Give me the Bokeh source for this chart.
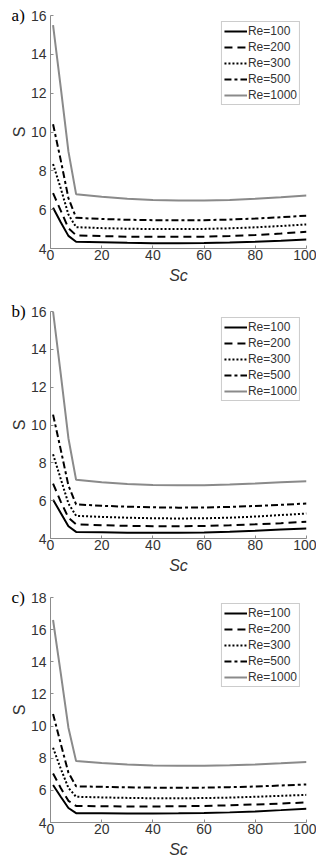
from bokeh.plotting import figure
from bokeh.models import Range1d, FixedTicker, Legend, LegendItem
from bokeh.core.properties import value
from bokeh.layouts import column
from bokeh.embed import file_html
from bokeh.resources import INLINE

# ---- data ----
sc = [1, 4, 7, 10, 20, 30, 40, 50, 60, 70, 80, 90, 100]
re_labels = ["Re=100", "Re=200", "Re=300", "Re=500", "Re=1000"]

a_re100 = [6.10, 5.35, 4.65, 4.35, 4.32, 4.29, 4.27, 4.27, 4.28, 4.31, 4.35, 4.40, 4.46]
a_re200 = [6.85, 5.95, 5.05, 4.68, 4.64, 4.61, 4.60, 4.60, 4.61, 4.64, 4.69, 4.77, 4.86]
a_re300 = [8.35, 7.10, 5.75, 5.10, 5.05, 5.02, 5.00, 5.00, 5.01, 5.04, 5.09, 5.16, 5.24]
a_re500 = [10.40, 8.55, 6.60, 5.58, 5.52, 5.48, 5.46, 5.45, 5.46, 5.49, 5.54, 5.61, 5.69]
a_re1000 = [15.50, 12.30, 9.00, 6.80, 6.66, 6.56, 6.50, 6.47, 6.47, 6.50, 6.56, 6.64, 6.73]

b_re100 = [6.05, 5.35, 4.65, 4.35, 4.33, 4.31, 4.30, 4.30, 4.32, 4.36, 4.41, 4.47, 4.53]
b_re200 = [6.90, 5.95, 5.10, 4.75, 4.70, 4.67, 4.65, 4.65, 4.66, 4.70, 4.75, 4.81, 4.88]
b_re300 = [8.45, 7.15, 5.85, 5.20, 5.14, 5.10, 5.07, 5.06, 5.07, 5.10, 5.16, 5.24, 5.32]
b_re500 = [10.55, 8.70, 6.80, 5.80, 5.73, 5.68, 5.65, 5.63, 5.64, 5.67, 5.72, 5.78, 5.85]
b_re1000 = [16.00, 12.70, 9.30, 7.10, 6.97, 6.88, 6.83, 6.81, 6.82, 6.86, 6.91, 6.97, 7.03]

c_re100 = [6.33, 5.60, 4.90, 4.58, 4.57, 4.56, 4.56, 4.57, 4.59, 4.63, 4.69, 4.77, 4.86]
c_re200 = [7.05, 6.15, 5.35, 5.03, 5.01, 5.00, 5.00, 5.01, 5.03, 5.07, 5.12, 5.18, 5.25]
c_re300 = [8.65, 7.35, 6.15, 5.60, 5.56, 5.53, 5.51, 5.51, 5.52, 5.55, 5.60, 5.66, 5.72]
c_re500 = [10.75, 8.90, 7.10, 6.25, 6.22, 6.19, 6.17, 6.16, 6.17, 6.20, 6.24, 6.30, 6.37]
c_re1000 = [16.60, 13.30, 9.90, 7.82, 7.70, 7.61, 7.55, 7.53, 7.53, 7.56, 7.61, 7.68, 7.76]

x_ticks = [0, 20, 40, 60, 80, 100]
y_ticks_ab = [4, 6, 8, 10, 12, 14, 16]
y_ticks_c = [4, 6, 8, 10, 12, 14, 16, 18]

styles = [
    dict(line_color="black", line_width=2, line_dash="solid"),
    dict(line_color="black", line_width=2, line_dash="8 5"),
    dict(line_color="black", line_width=2, line_dash="2 2"),
    dict(line_color="black", line_width=2, line_dash="7 3 3 3"),
    dict(line_color="#8a8a8a", line_width=2, line_dash="solid"),
]

AX = "#8c8c8c"
TXT = "#333333"


def make_panel(series, ymax, yticks, tag, frame_h, top, bottom):
    p = figure(frame_width=256, frame_height=frame_h, x_range=Range1d(0, 100),
               y_range=Range1d(4, ymax), output_backend="svg",
               toolbar_location=None, min_border_left=50, min_border_right=10,
               min_border_top=top, min_border_bottom=bottom)
    p.outline_line_color = None
    p.grid.visible = False
    p.background_fill_color = "white"
    p.border_fill_color = "white"
    items = []
    for ys, st, lab in zip(series, styles, re_labels):
        r = p.line(sc, ys, **st)
        items.append(LegendItem(label=lab, renderers=[r]))
    for ax in (p.xaxis[0], p.yaxis[0]):
        ax.axis_line_color = AX
        ax.major_tick_line_color = AX
        ax.major_tick_in = 3
        ax.major_tick_out = 0
        ax.minor_tick_line_color = None
        ax.major_label_text_font = "Liberation Sans"
        ax.major_label_text_font_size = "14px"
        ax.major_label_text_color = TXT
        ax.axis_label_text_font = "Liberation Sans"
        ax.axis_label_text_font_size = "16px"
        ax.axis_label_text_color = TXT
    p.xaxis.ticker = FixedTicker(ticks=x_ticks)
    p.yaxis.ticker = FixedTicker(ticks=yticks)
    p.xaxis.axis_label = "Sc"
    p.xaxis.axis_label_text_font_style = "italic"
    p.xaxis.major_label_standoff = 1
    p.xaxis.axis_label_standoff = 4
    p.yaxis.axis_label = "S"
    p.yaxis.axis_label_text_font_style = "normal"
    p.yaxis.major_label_standoff = 4
    p.yaxis.axis_label_standoff = 0

    leg = Legend(items=items, location="top_right")
    leg.label_text_font = "Liberation Sans"
    leg.label_text_font_size = "12px"
    leg.label_text_color = TXT
    leg.label_height = 14
    leg.glyph_height = 14
    leg.glyph_width = 23
    leg.label_standoff = 1
    leg.spacing = 2
    leg.padding = 2
    leg.margin = 6
    leg.border_line_color = "#9a9a9a"
    leg.border_line_width = 1
    leg.background_fill_color = "white"
    leg.background_fill_alpha = 1
    p.add_layout(leg)

    p.text(x=[-15.2], y=[ymax], text=[tag], text_font=value("Liberation Serif"),
           text_font_size="17px", text_color="black", text_baseline="middle",
           text_align="left", level="overlay")
    return p


p1 = make_panel([a_re100, a_re200, a_re300, a_re500, a_re1000], 16, y_ticks_ab, "a)", 233, 15, 44)
p2 = make_panel([b_re100, b_re200, b_re300, b_re500, b_re1000], 16, y_ticks_ab, "b)", 227, 19, 44)
p3 = make_panel([c_re100, c_re200, c_re300, c_re500, c_re1000], 18, y_ticks_c, "c)", 225, 15, 33)

layout = column(p1, p2, p3, spacing=0)
open("out.html", "w").write(file_html(layout, INLINE))
